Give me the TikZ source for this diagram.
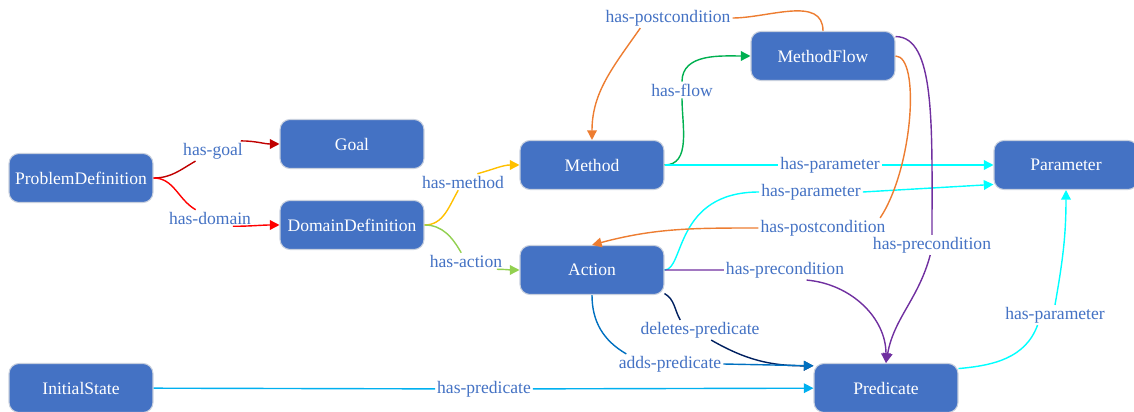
\documentclass[tikz,border=0pt]{standalone}
\usepackage{fontspec}
\setmainfont{Liberation Serif}
\usetikzlibrary{arrows.meta}
\definecolor{boxblue}{RGB}{68,114,196}
\definecolor{boxedge}{RGB}{200,208,222}
\definecolor{labelblue}{RGB}{68,114,196}
\definecolor{goalred}{RGB}{192,0,0}
\definecolor{domainred}{RGB}{255,0,0}
\definecolor{methodgold}{RGB}{255,192,0}
\definecolor{actiongreen}{RGB}{146,208,80}
\definecolor{flowgreen}{RGB}{0,176,80}
\definecolor{postorange}{RGB}{237,125,49}
\definecolor{paramcyan}{RGB}{0,255,255}
\definecolor{precpurple}{RGB}{112,48,160}
\definecolor{delnavy}{RGB}{0,32,96}
\definecolor{addblue}{RGB}{0,112,192}
\definecolor{predblue}{RGB}{0,176,240}
\tikzset{
    entity/.style={rectangle, draw=boxedge, fill=boxblue, line width=0.6pt,
                   rounded corners=0.2cm, text=white, align=center,
                   minimum width=2.88cm, minimum height=0.98cm, inner sep=0pt,
                   font=\fontsize{10}{12}\selectfont},
    rel/.style={fill=white, inner sep=1pt, text=labelblue,
                font=\fontsize{10}{12}\selectfont},
    link/.style={-{Triangle[length=5.5pt,width=5.5pt]}, line width=0.8pt}
}
\begin{document}
\begin{tikzpicture}[x=0.02cm, y=0.02cm]
    \useasboundingbox (0,0) rectangle (1134,-412);

    \node[entity] (probdef) at (81,-178) {ProblemDefinition};
    \node[entity] (goal) at (352,-144) {Goal};
    \node[entity] (domdef) at (352,-225) {DomainDefinition};
    \node[entity] (method) at (592,-165) {Method};
    \node[entity] (mflow) at (823,-56) {MethodFlow};
    \node[entity] (param) at (1066,-165) {Parameter};
    \node[entity] (action) at (592,-270) {Action};
    \node[entity] (istate) at (81,-388) {InitialState};
    \node[entity] (pred) at (886,-388) {Predicate};

    \node[rel] (lgoal) at (213,-151) {has-goal};
    \node[rel] (ldomain) at (210,-218) {has-domain};
    \node[rel] (lmethod) at (463,-182) {has-method};
    \node[rel] (laction) at (466,-261) {has-action};
    \node[rel] (lflow) at (682,-90) {has-flow};
    \node[rel] (lpostmf) at (668,-18) {has-postcondition};
    \node[rel] (lparmeth) at (830,-165) {has-parameter};
    \node[rel] (lparact) at (811,-192) {has-parameter};
    \node[rel] (lpostact) at (823,-228) {has-postcondition};
    \node[rel] (lpremf) at (932,-245) {has-precondition};
    \node[rel] (lpreact) at (785,-270) {has-precondition};
    \node[rel] (ldel) at (700,-330) {deletes-predicate};
    \node[rel] (ladd) at (670,-364) {adds-predicate};
    \node[rel] (lhaspred) at (484,-389) {has-predicate};
    \node[rel] (lparpred) at (1055,-315) {has-parameter};

    \draw[link, goalred] (probdef) to[out=0, in=210] (lgoal)
        (lgoal.20) to[out=0, in=180] (goal.west);
    \draw[link, domainred] (probdef) to[out=0, in=150] (ldomain)
        (ldomain.-20) to[out=0, in=180] (domdef.west);
    \draw[link, methodgold] (domdef) to[out=0, in=-120] (lmethod)
        (lmethod.30) to[out=15, in=180] (method.west);
    \draw[link, actiongreen] (domdef) to[out=0, in=120] (laction)
        (laction.-15) to[out=0, in=180] (action.west);
    \draw[link, flowgreen] (method) to[out=0, in=-90] (lflow)
        (lflow) to[out=90, in=180] (mflow);
    \draw[link, postorange] (mflow) to[out=90, in=0] (lpostmf)
        (lpostmf.200) to[out=235, in=90] (method.north);
    \draw[link, paramcyan] (method) -- (lparmeth) -- (param);
    \draw[link, paramcyan] (action.east) .. controls +(20,0) and +(-85,0) .. (lparact.west)
        (lparact.east) -- (param.195);
    \draw[link, postorange] (mflow.east) .. controls +(25,0) and +(33,50) .. (lpostact.10)
        (lpostact.west) to[out=180, in=15] (action.north);
    \draw[link, precpurple] (mflow.15) .. controls +(40,0) and +(0,110) .. (lpremf.north)
        (lpremf.-100) to[out=-105, in=80] (pred.north);
    \draw[link, precpurple] (action) -- (lpreact)
        (lpreact.-25) to[out=-5, in=90] (pred.north);
    \draw[link, delnavy] (action.-18) to[out=-30, in=120] (ldel.153)
        (ldel.-42) to[out=-30, in=180] (pred.163);
    \draw[link, addblue] (action.south) to[out=-90, in=150] (ladd.167)
        (ladd.east) -- (pred.163);
    \draw[link, predblue] (istate) -- (lhaspred) -- (pred);
    \draw[link, paramcyan] (pred.15) to[out=5, in=-110] (lparpred.-150)
        (lparpred.north) to[out=80, in=-90] (param.south);
\end{tikzpicture}
\end{document}
